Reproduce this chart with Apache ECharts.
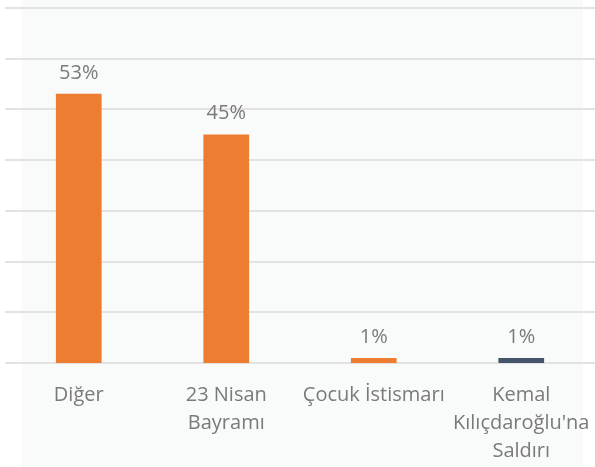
<!DOCTYPE html>
<html>
<head>
<meta charset="utf-8">
<script src="https://cdn.jsdelivr.net/npm/echarts@6/dist/echarts.min.js"></script>
<style>
  html, body { margin: 0; padding: 0; background: #ffffff; }
  #chart { width: 595px; height: 467px; }
</style>
</head>
<body>
<div id="chart"></div>
<script>
// Topic shares (percent)
const categories = ['Diğer', '23 Nisan\nBayramı', 'Çocuk İstismarı', 'Kemal\nKılıçdaroğlu\'na\nSaldırı'];
const shares = [53, 45, 1, 1];
const barColors = ['#ED7D31', '#ED7D31', '#ED7D31', '#44546A'];
const yTicks = { min: 0, max: 70, interval: 10 };

const textColor = '#7A7A7A';
const fontFamily = '"Open Sans", "Noto Sans", sans-serif';

const chart = echarts.init(document.getElementById('chart'), null, { renderer: 'canvas' });

chart.setOption({
  backgroundColor: '#ffffff',
  animation: false,
  graphic: [{
    type: 'rect',
    z: -10,
    silent: true,
    shape: { x: 22, y: 0, width: 561, height: 467 },
    style: { fill: '#F9FAFA' }
  }],
  grid: { left: 5, right: -5, top: 7.5, bottom: 104, containLabel: false },
  xAxis: {
    type: 'category',
    data: categories,
    axisLine: { show: false },
    axisTick: { show: false },
    axisLabel: {
      color: textColor,
      fontFamily: fontFamily,
      fontSize: 20,
      lineHeight: 28,
      margin: 18,
      interval: 0
    }
  },
  yAxis: {
    type: 'value',
    min: yTicks.min,
    max: yTicks.max,
    interval: yTicks.interval,
    axisLabel: { show: false },
    axisLine: { show: false },
    axisTick: { show: false },
    splitLine: { lineStyle: { color: '#E3E3E3', width: 2 } }
  },
  series: [{
    type: 'bar',
    barWidth: '31%',
    data: shares.map((v, i) => ({ value: v, itemStyle: { color: barColors[i] } })),
    label: {
      show: true,
      position: 'top',
      distance: 11,
      color: textColor,
      fontFamily: fontFamily,
      fontSize: 20,
      formatter: p => p.value + '%'
    }
  }]
});
</script>
</body>
</html>
